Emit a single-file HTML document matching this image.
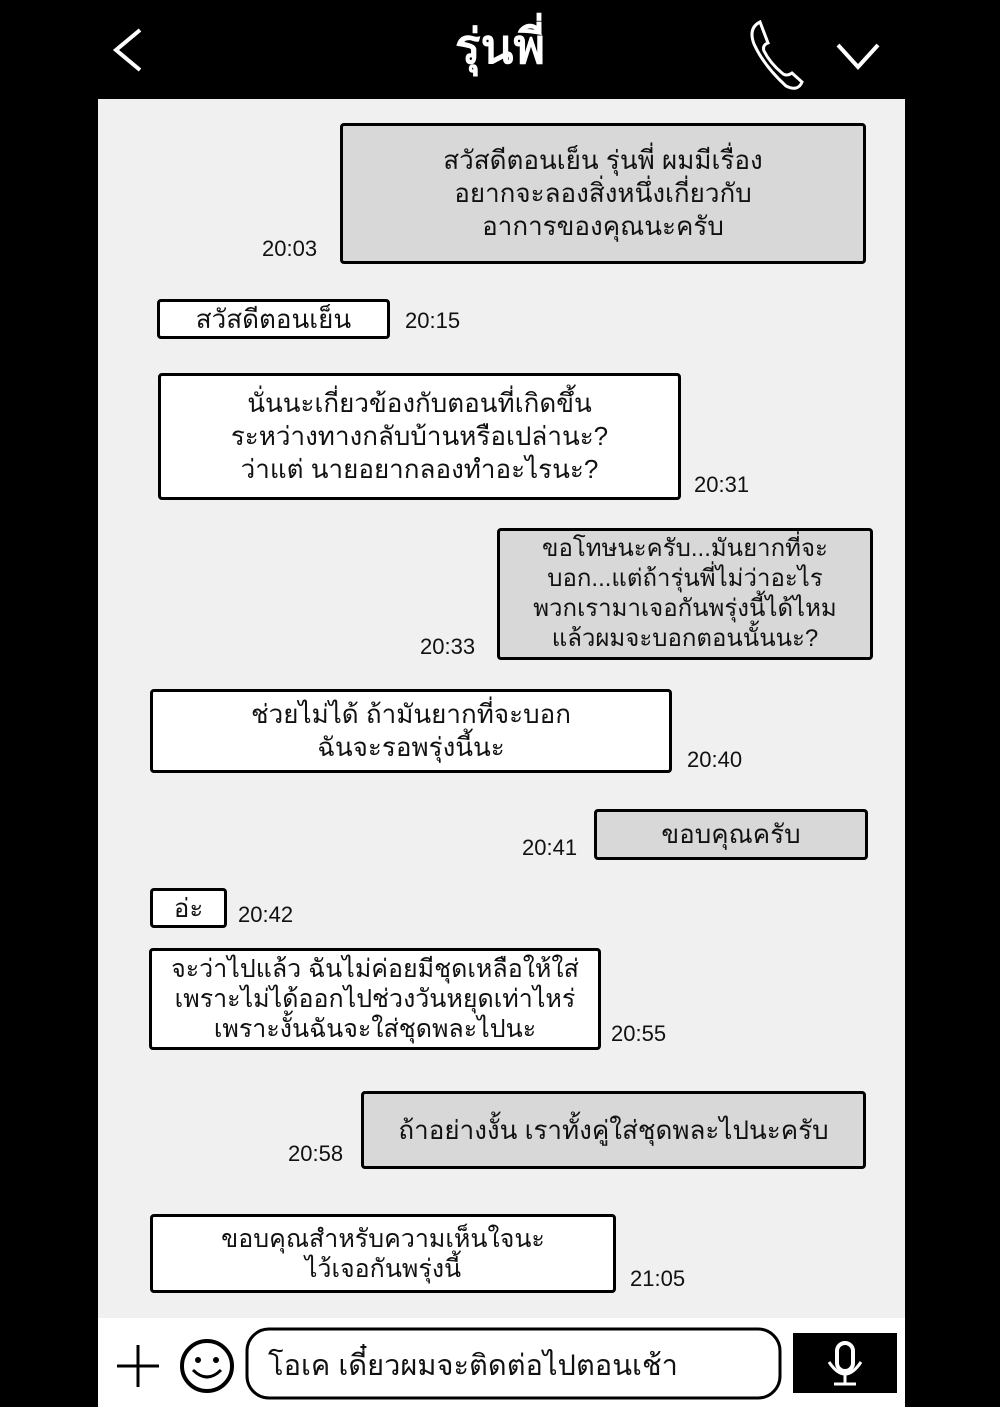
<!DOCTYPE html>
<html><head><meta charset="utf-8"><style>
body{margin:0;width:1000px;height:1407px;background:#000;position:relative;overflow:hidden;font-family:"Liberation Sans","Noto Sans CJK SC",sans-serif;}
.chat{position:absolute;left:98px;top:99px;width:807px;height:1219px;background:#f0f0f0;}
.b{position:absolute;border:3px solid #000;border-radius:4px;box-sizing:border-box;display:flex;align-items:center;justify-content:center;text-align:center;font-size:26px;line-height:33px;color:#111;}
.g{background:#d8d8d8}.w{background:#fff}
.t{position:absolute;font-size:22px;color:#111;}
.bar{position:absolute;left:98px;top:1318px;width:807px;height:89px;background:#fff;}
</style></head><body>
<div style="position:absolute;left:0;top:0;width:1000px;height:99px;background:#000"></div>
<svg style="position:absolute;left:0;top:0" width="1000" height="99">
<polyline points="140,30 116,50 140,70" fill="none" stroke="#fff" stroke-width="4"/>
<polyline points="838,45 858,67 878,45" fill="none" stroke="#fff" stroke-width="4"/>
<path d="M760,22 q-12,6 -6,22 q10,22 32,42 q12,6 16,-4 l-10,-9 q-6,4 -10,0 q-12,-10 -18,-22 q-2,-6 4,-8 l-8,-21z" fill="none" stroke="#fff" stroke-width="3"/>
</svg>
<div style="position:absolute;left:400px;width:200px;top:18px;text-align:center;color:#fff;font-size:48px;font-weight:bold;line-height:60px">รุ่นพี่</div>
<div class="chat"></div>
<div class="b g" style="left:340px;top:123px;width:526px;height:141px">สวัสดีตอนเย็น รุ่นพี่ ผมมีเรื่อง<br>อยากจะลองสิ่งหนึ่งเกี่ยวกับ<br>อาการของคุณนะครับ</div>
<div class="t" style="left:262px;top:236px">20:03</div>
<div class="b w" style="left:157px;top:299px;width:233px;height:40px">สวัสดีตอนเย็น</div>
<div class="t" style="left:405px;top:308px">20:15</div>
<div class="b w" style="left:158px;top:373px;width:523px;height:127px">นั่นนะเกี่ยวข้องกับตอนที่เกิดขึ้น<br>ระหว่างทางกลับบ้านหรือเปล่านะ?<br>ว่าแต่ นายอยากลองทำอะไรนะ?</div>
<div class="t" style="left:694px;top:472px">20:31</div>
<div class="b g" style="left:497px;top:528px;width:376px;height:132px;font-size:24px;line-height:30px">ขอโทษนะครับ...มันยากที่จะ<br>บอก...แต่ถ้ารุ่นพี่ไม่ว่าอะไร<br>พวกเรามาเจอกันพรุ่งนี้ได้ไหม<br>แล้วผมจะบอกตอนนั้นนะ?</div>
<div class="t" style="left:420px;top:634px">20:33</div>
<div class="b w" style="left:150px;top:689px;width:522px;height:84px">ช่วยไม่ได้ ถ้ามันยากที่จะบอก<br>ฉันจะรอพรุ่งนี้นะ</div>
<div class="t" style="left:687px;top:747px">20:40</div>
<div class="b g" style="left:594px;top:809px;width:274px;height:51px">ขอบคุณครับ</div>
<div class="t" style="left:522px;top:835px">20:41</div>
<div class="b w" style="left:150px;top:888px;width:77px;height:40px">อ่ะ</div>
<div class="t" style="left:238px;top:902px">20:42</div>
<div class="b w" style="left:149px;top:948px;width:452px;height:102px;font-size:25px;line-height:30px">จะว่าไปแล้ว ฉันไม่ค่อยมีชุดเหลือให้ใส่<br>เพราะไม่ได้ออกไปช่วงวันหยุดเท่าไหร่<br>เพราะงั้นฉันจะใส่ชุดพละไปนะ</div>
<div class="t" style="left:611px;top:1021px">20:55</div>
<div class="b g" style="left:361px;top:1091px;width:505px;height:78px">ถ้าอย่างงั้น เราทั้งคู่ใส่ชุดพละไปนะครับ</div>
<div class="t" style="left:288px;top:1141px">20:58</div>
<div class="b w" style="left:150px;top:1214px;width:466px;height:79px;font-size:25px;line-height:30px">ขอบคุณสำหรับความเห็นใจนะ<br>ไว้เจอกันพรุ่งนี้</div>
<div class="t" style="left:630px;top:1266px">21:05</div>
<div class="bar"></div>
<svg style="position:absolute;left:0;top:1318px" width="1000" height="89">
<line x1="138" y1="27" x2="138" y2="69" stroke="#000" stroke-width="3"/>
<line x1="117" y1="48" x2="159" y2="48" stroke="#000" stroke-width="3"/>
<circle cx="207" cy="48" r="25" fill="none" stroke="#000" stroke-width="4"/>
<circle cx="198" cy="42" r="3"/><circle cx="216" cy="42" r="3"/>
<path d="M193,52 q14,14 28,0" fill="none" stroke="#000" stroke-width="3"/>
<rect x="247" y="11" width="533" height="69" rx="22" fill="#fff" stroke="#000" stroke-width="3"/>
<rect x="793" y="15" width="104" height="60" fill="#000"/>
<rect x="837" y="25" width="16" height="28" rx="8" fill="none" stroke="#fff" stroke-width="4"/>
<path d="M829,44 q16,24 32,0 M845,56 v10 M834,66 h22" fill="none" stroke="#fff" stroke-width="3"/>
</svg>
<div style="position:absolute;left:268px;top:1342px;font-size:29px;color:#111">โอเค เดี๋ยวผมจะติดต่อไปตอนเช้า</div>
</body></html>
